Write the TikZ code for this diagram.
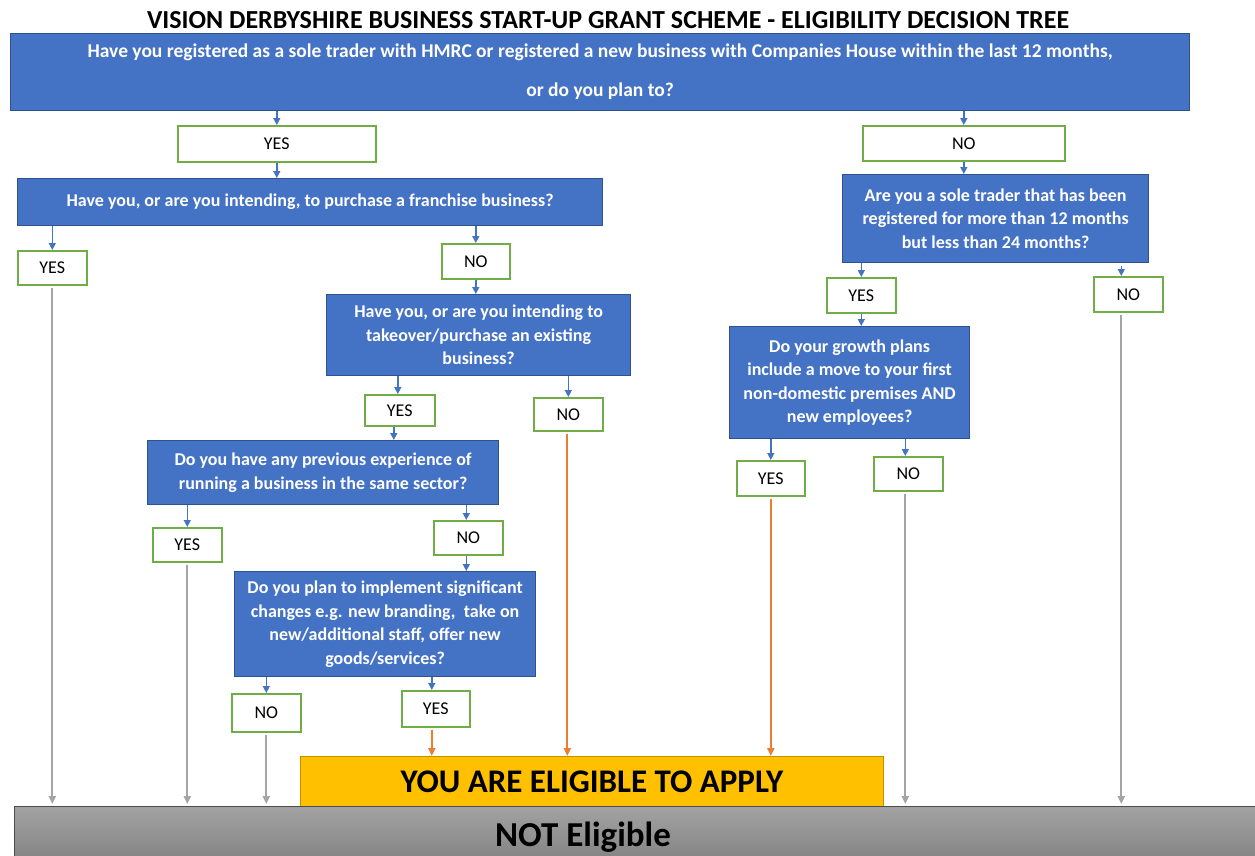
\documentclass[tikz,border=0pt]{standalone}
\usepackage{fontspec}
\setmainfont{Carlito}
\usetikzlibrary{arrows.meta}
\definecolor{qblue}{HTML}{4472C4}
\definecolor{qblueline}{HTML}{2F528F}
\definecolor{agreen}{HTML}{70AD47}
\definecolor{gold}{HTML}{FFC000}
\definecolor{goldline}{HTML}{BF9000}
\definecolor{aorange}{HTML}{ED7D31}
\definecolor{agrey}{HTML}{A5A5A5}
\definecolor{ntop}{HTML}{A2A2A2}
\definecolor{nbot}{HTML}{858585}
\begin{document}
\begin{tikzpicture}[x=1pt,y=-1pt,
 qbox/.style={draw=qblueline, line width=1.2pt, fill=qblue, text=white, font=\bfseries\fontsize{18}{23.5}\selectfont, align=center, inner sep=0pt, anchor=north west},
 abox/.style={draw=agreen, line width=1.6pt, fill=white, font=\fontsize{18}{20}\selectfont, inner sep=0pt, anchor=north west},
 barrow/.style={draw=qblue, line width=1.4pt, -{Triangle[length=7pt,width=7pt]}},
 oarrow/.style={draw=aorange, line width=2pt, shorten <=2pt, -{Triangle[length=8pt,width=7pt]}},
 garrow/.style={draw=agrey, line width=2pt, shorten <=2pt, shorten >=2pt, -{Triangle[length=8pt,width=7pt]}},
]
\useasboundingbox (0,0) rectangle (1255,855);
\node[font=\bfseries\fontsize{26}{28}\selectfont] (title) at (608,20) {VISION DERBYSHIRE BUSINESS START-UP GRANT SCHEME - ELIGIBILITY DECISION TREE};
% question boxes
\node[qbox, minimum width=1179pt, minimum height=77pt, font=\bfseries\fontsize{19.5}{23.5}\selectfont] (q1) at (10,33) {Have you registered as a sole trader with HMRC or registered a new business with Companies House within the last 12 months,\\[15.5pt]or do you plan to?};
\node[qbox, minimum width=585pt, minimum height=47pt] (q2) at (17,178) {\raisebox{2pt}{Have you, or are you intending, to purchase a franchise business?}};
\node[qbox, minimum width=306pt, minimum height=88pt] (q3) at (842,174) {Are you a sole trader that has been\\registered for more than 12 months\\but less than 24 months?};
\node[qbox, minimum width=304pt, minimum height=81pt] (q4) at (326,294) {Have you, or are you intending to\\takeover/purchase an existing\\business?};
\node[qbox, minimum width=351pt, minimum height=64pt] (q5) at (147,440) {Do you have any previous experience of\\running a business in the same sector?};
\node[qbox, minimum width=301pt, minimum height=105pt] (q6) at (234,571) {Do you plan to implement significant\\changes e.g. new branding,\ \ take on\\new/additional staff, offer new\\goods/services?};
\node[qbox, minimum width=240pt, minimum height=112pt] (q7) at (729,326) {Do your growth plans\\include a move to your first\\non-domestic premises AND\\new employees?};
% answer boxes
\node[abox, minimum width=198pt, minimum height=36pt] (y1) at (177,125) {YES};
\node[abox, minimum width=202pt, minimum height=35pt] (n1) at (862,125) {NO};
\node[abox, minimum width=69pt, minimum height=34pt] (y2) at (17,250) {YES};
\node[abox, minimum width=68pt, minimum height=35pt] (n2) at (441,243) {NO};
\node[abox, minimum width=70pt, minimum height=31pt] (y3) at (364,394) {YES};
\node[abox, minimum width=69pt, minimum height=33pt] (n3) at (533,397) {NO};
\node[abox, minimum width=69pt, minimum height=34pt] (y4) at (152,527) {YES};
\node[abox, minimum width=69pt, minimum height=34pt] (n4) at (433,520) {NO};
\node[abox, minimum width=69pt, minimum height=38pt] (n5) at (231,693) {NO};
\node[abox, minimum width=68pt, minimum height=36pt] (y5) at (401,690) {YES};
\node[abox, minimum width=69pt, minimum height=35pt] (y6) at (826,277) {YES};
\node[abox, minimum width=69pt, minimum height=35pt] (n6) at (1093,276) {NO};
\node[abox, minimum width=68pt, minimum height=35pt] (y7) at (736,460) {YES};
\node[abox, minimum width=69pt, minimum height=34pt] (n7) at (873,456) {NO};
% outcomes
\node[draw=goldline, line width=0.8pt, fill=gold, inner sep=0pt, anchor=north west, minimum width=583pt, minimum height=50pt, font=\bfseries\fontsize{33}{34}\selectfont] (elig) at (300,756) {\raisebox{-7pt}{YOU ARE ELIGIBLE TO APPLY}};
\node[draw=black!70, line width=0.8pt, top color=ntop, bottom color=nbot, inner sep=0pt, anchor=north west, minimum width=1245pt, minimum height=52pt] (note) at (14,806) {};
\node[font=\bfseries\fontsize{35}{36}\selectfont] (notet) at (583,837) {NOT Eligible};
% blue arrows
\draw[barrow] (q1.south -| y1.north) -- (y1.north);
\draw[barrow] (y1.south) -- (y1.south |- q2.north);
\draw[barrow] (q1.south -| n1.north) -- (n1.north);
\draw[barrow] (n1.south) -- (n1.south |- q3.north);
\draw[barrow] (q2.south -| y2.north) -- (y2.north);
\draw[barrow] (q2.south -| n2.north) -- (n2.north);
\draw[barrow] (n2.south) -- (n2.south |- q4.north);
\draw[barrow] ([xshift=-2pt]q4.south -| y3.north) -- ([xshift=-2pt]y3.north);
\draw[barrow] (q4.south -| n3.north) -- (n3.north);
\draw[barrow] ([xshift=-6pt]y3.south) -- ([xshift=-6pt]y3.south |- q5.north);
\draw[barrow] (q5.south -| y4.north) -- (y4.north);
\draw[barrow] ([xshift=-2pt]q5.south -| n4.north) -- ([xshift=-2pt]n4.north);
\draw[barrow] ([xshift=-2pt]n4.south) -- ([xshift=-2pt]n4.south |- q6.north);
\draw[barrow] (q6.south -| n5.north) -- (n5.north);
\draw[barrow] ([xshift=-4pt]q6.south -| y5.north) -- ([xshift=-4pt]y5.north);
\draw[barrow] (q3.south -| y6.north) -- (y6.north);
\draw[barrow] ([xshift=-7pt,yshift=-3pt]q3.south -| n6.north) -- ([xshift=-7pt]n6.north);
\draw[barrow] (y6.south) -- (y6.south |- q7.north);
\draw[barrow] (q7.south -| y7.north) -- (y7.north);
\draw[barrow] ([xshift=-3pt]q7.south -| n7.north) -- ([xshift=-3pt]n7.north);
% grey arrows to NOT eligible
\draw[garrow] (y2.south) -- (y2.south |- note.north);
\draw[garrow] (y4.south) -- (y4.south |- note.north);
\draw[garrow] (n5.south) -- (n5.south |- note.north);
\draw[garrow] ([xshift=-3pt]n7.south) -- ([xshift=-3pt]n7.south |- note.north);
\draw[garrow] ([xshift=-7pt]n6.south) -- ([xshift=-7pt]n6.south |- note.north);
% orange arrows to eligible
\draw[oarrow] ([xshift=-1pt]n3.south) -- ([xshift=-1pt]n3.south |- elig.north);
\draw[oarrow] ([xshift=-4pt]y5.south) -- ([xshift=-4pt]y5.south |- elig.north);
\draw[oarrow] (y7.south) -- (y7.south |- elig.north);
\end{tikzpicture}
\end{document}
